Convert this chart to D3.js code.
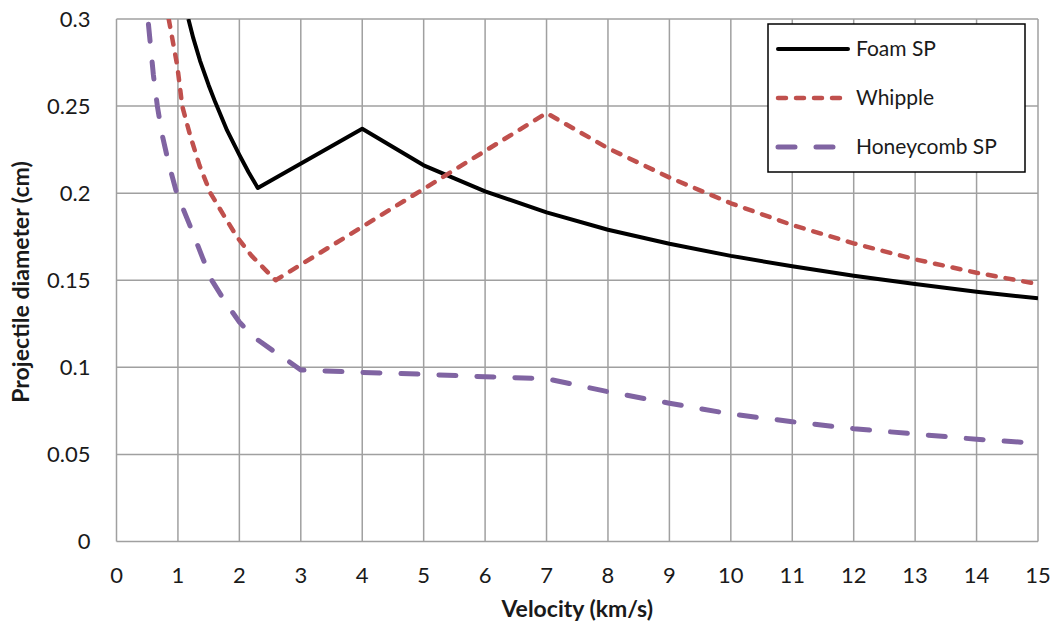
<!DOCTYPE html>
<html>
<head>
<meta charset="utf-8">
<script src="https://cdn.jsdelivr.net/npm/d3@7"></script>
<style>
  body { margin: 0; background: #fff; }
  text { font-family: Lato, "Open Sans", sans-serif; fill: #1a1a1a; }
  .grid line { stroke: #a0a0a0; stroke-width: 1.5; }
  .axis-title { font-weight: bold; font-size: 23px; }
</style>
</head>
<body>
<svg width="1054" height="633"></svg>
<script>
// velocity (km/s), projectile diameter (cm)
const foamSP = [
  [1.17, 0.300], [1.25, 0.289], [1.36, 0.276], [1.5, 0.262], [1.61, 0.252],
  [1.8, 0.236], [2.0, 0.222], [2.15, 0.212], [2.3, 0.203], [4, 0.237],
  [5, 0.216], [6, 0.201], [7, 0.189], [8, 0.179], [9, 0.171], [10, 0.164],
  [11, 0.158], [12, 0.1526], [13, 0.1478], [14, 0.1434], [15, 0.1396]
];
const whipple = [
  [0.85, 0.300], [0.99, 0.273], [1.07, 0.250], [1.2, 0.233], [1.35, 0.216],
  [1.53, 0.200], [1.75, 0.187], [1.96, 0.175], [2.2, 0.164], [2.59, 0.150],
  [4, 0.1807], [7, 0.246], [8, 0.2258], [9, 0.209], [10, 0.1942],
  [11, 0.1817], [12, 0.1712], [13, 0.162], [14, 0.1543], [15, 0.1478]
];
const honeycombSP = [
  [0.52, 0.297], [0.6, 0.268], [0.665, 0.250], [0.74, 0.234], [0.85, 0.217],
  [0.98, 0.200], [1.2, 0.181], [1.4, 0.163], [1.55, 0.150], [1.8, 0.136],
  [2.0, 0.126], [2.25, 0.117], [2.57, 0.109], [2.8, 0.1035], [3, 0.0985],
  [4, 0.0971], [5, 0.096], [6, 0.0946], [7, 0.0935], [8, 0.086],
  [9, 0.0794], [10, 0.0732], [11, 0.0688], [12, 0.0648], [13, 0.0617],
  [14, 0.0587], [15, 0.0564]
];
const seriesNames = ["Foam SP", "Whipple", "Honeycomb SP"];
const xTicks = d3.range(0, 16, 1);
const yTicks = [0, 0.05, 0.1, 0.15, 0.2, 0.25, 0.3];

const svg = d3.select("svg");
const margin = {left: 116.5, right: 16, top: 19, bottom: 91.5};
const width = 1054 - margin.left - margin.right;
const height = 633 - margin.top - margin.bottom;

const x = d3.scaleLinear().domain([0, 15]).range([0, width]);
const y = d3.scaleLinear().domain([0, 0.3]).range([height, 0]);

const g = svg.append('g')
    .attr('transform', `translate(${margin.left},${margin.top})`);

svg.append('defs').append('clipPath').attr('id', 'plot-clip')
  .append('rect').attr('width', width).attr('height', height);

// gridlines
const grid = g.append('g').attr('class', 'grid');
grid.selectAll('.vline').data(xTicks).enter().append('line')
    .attr('x1', d => x(d)).attr('x2', d => x(d))
    .attr('y1', 0).attr('y2', height);
grid.selectAll('.hline').data(yTicks).enter().append('line')
    .attr('x1', 0).attr('x2', width)
    .attr('y1', d => y(d)).attr('y2', d => y(d));

// tick labels
g.selectAll('.xlabel').data(xTicks).enter().append('text')
    .attr('x', d => x(d)).attr('y', height + 34)
    .attr('text-anchor', 'middle').attr('dy', '0.35em')
    .style('font-size', '22px')
    .text(d => d);
g.selectAll('.ylabel').data(yTicks).enter().append('text')
    .attr('x', -26).attr('y', d => y(d))
    .attr('text-anchor', 'end').attr('dy', '0.35em')
    .style('font-size', '22px')
    .text(d => d);

// axis titles
svg.append('text').attr('class', 'axis-title')
    .attr('x', margin.left + width / 2).attr('y', 609)
    .attr('text-anchor', 'middle').attr('dy', '0.35em')
    .text('Velocity (km/s)');
svg.append('text').attr('class', 'axis-title')
    .attr('transform', 'translate(21,282) rotate(-90)')
    .attr('text-anchor', 'middle').attr('dy', '0.35em')
    .text('Projectile diameter (cm)');

const styles = [
  {color: '#000000', dash: null, w: 4},
  {color: '#C0504D', dash: '8,10', w: 4.5},
  {color: '#8064A2', dash: '17,21', w: 5}
];
const line = d3.line().x(d => x(d[0])).y(d => y(d[1]));

const lines = g.append('g').attr('clip-path', 'url(#plot-clip)');
[foamSP, whipple, honeycombSP].forEach((data, i) => {
  lines.append('path')
      .attr('d', line(data))
      .attr('fill', 'none')
      .attr('stroke', styles[i].color)
      .attr('stroke-width', styles[i].w)
      .attr('stroke-linecap', styles[i].dash ? 'round' : 'butt')
      .attr('stroke-linejoin', 'round')
      .attr('stroke-dasharray', styles[i].dash);
});

// legend
const legend = svg.append('g').attr('transform', 'translate(768, 24)');
legend.append('rect')
    .attr('width', 257).attr('height', 148)
    .attr('fill', '#fff').attr('stroke', '#000').attr('stroke-width', 1.5);
seriesNames.forEach((name, i) => {
  const row = legend.append('g').attr('transform', `translate(0, ${25 + i * 49})`);
  row.append('line')
      .attr('x1', 10).attr('x2', 80)
      .attr('stroke', styles[i].color)
      .attr('stroke-width', styles[i].w)
      .attr('stroke-linecap', 'round')
      .attr('stroke-dasharray', styles[i].dash);
  row.append('text')
      .attr('x', 88).attr('dy', '0.35em')
      .style('font-size', '21px')
      .text(name);
});
</script>
</body>
</html>
